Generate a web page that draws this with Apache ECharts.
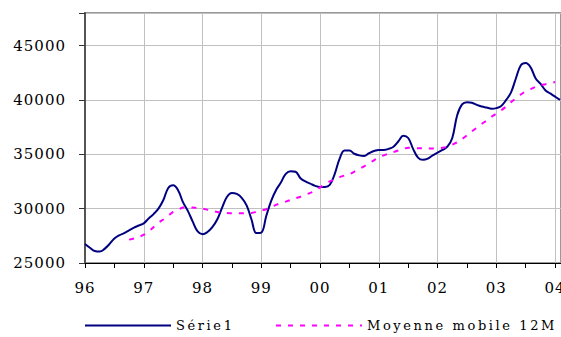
<!DOCTYPE html>
<html>
<head>
<meta charset="utf-8">
<script src="https://cdn.jsdelivr.net/npm/echarts@6/dist/echarts.min.js"></script>
<style>
  html, body { margin: 0; padding: 0; background: #fff; }
  #chart { width: 561px; height: 337px; }
  #chart text { letter-spacing: 1px; }
  #chart text.legend-text { font-family: 'DejaVu Serif', serif !important; letter-spacing: 2.6px; }
</style>
</head>
<body>
<div id="chart"></div>
<script>
// Year tick labels, one per January (every 12 months)
const yearLabels = ['96', '97', '98', '99', '00', '01', '02', '03', '04'];

// Monthly series, starting January 1996
const serie1 = [
  26750, 26400, 26100, 26050, 26300, 26750, 27250, 27550, 27750, 28000, 28250, 28450,
  28650, 29100, 29500, 30000, 30800, 31900, 32150, 31700, 30600, 29800, 28800, 27900,
  27650, 27850, 28300, 29000, 30100, 31100, 31450, 31350, 31000, 30300, 29000, 27750,
  27800, 29300, 30700, 31700, 32400, 33200, 33450, 33400, 32800, 32500, 32300, 32100,
  32000, 32000, 32200, 33200, 34600, 35350, 35350, 35050, 34900, 34850, 35100, 35300,
  35400, 35400, 35500, 35700, 36200, 36700, 36500, 35500, 34700, 34500, 34600, 34900,
  35150, 35400, 35700, 36500, 38600, 39600, 39800, 39750, 39550, 39400, 39300, 39200,
  39250, 39450, 40000, 40700, 42000, 43200, 43400, 43000, 42000, 41500, 40900, 40600,
  40300, 40000
];

// 12-month moving average, first value at month index maStart
const maStart = 9;
const movingAvg = [
  27150, 27250, 27400,
  27600, 27900, 28300, 28700, 29000, 29350, 29700, 29900, 30100, 30150, 30100, 30050,
  30000, 29900, 29800, 29700, 29650, 29600, 29580, 29580, 29580, 29580, 29600, 29700,
  29820, 29950, 30150, 30350, 30500, 30650, 30800, 30950, 31100, 31280, 31450, 31650,
  31950, 32250, 32500, 32700, 32900, 33050, 33170, 33400, 33650, 33900, 34150, 34450,
  34700, 34900, 35050, 35200, 35350, 35500, 35600, 35580, 35560, 35550, 35540, 35540,
  35550, 35600, 35700, 35900, 36100, 36400, 36750, 37100, 37450, 37800, 38100, 38450,
  38750, 39050, 39400, 39800, 40150, 40500, 40800, 41000, 41200, 41350, 41450, 41550,
  41650
];

const seriesNames = ['Série1', 'Moyenne mobile 12M'];
const serifFont = 'DejaVu Serif';

const chart = echarts.init(document.getElementById('chart'), null, { renderer: 'svg' });

const legendBase = {
  top: 319, padding: 0, itemHeight: 14, itemWidth: 86,
  itemStyle: { opacity: 0 },
  textStyle: { fontFamily: serifFont, fontSize: 13, color: '#000' }
};

chart.setOption({
  animation: false,
  backgroundColor: '#fff',
  grid: {
    left: 85, right: 0, top: 13, bottom: 74,
    outerBoundsMode: 'none',
    show: true, borderColor: '#999', borderWidth: 2, backgroundColor: 'transparent'
  },
  legend: [
    Object.assign({ data: [seriesNames[0]], left: 84 }, legendBase),
    Object.assign({ data: [seriesNames[1]], left: 275 }, legendBase)
  ],
  xAxis: {
    type: 'value', min: 0, max: 97.2, interval: 12,
    axisLine: { show: true, lineStyle: { color: '#000', width: 1 } },
    axisTick: { show: true, length: 5, lineStyle: { color: '#000' } },
    minorTick: { show: true, splitNumber: 2, length: 5, lineStyle: { color: '#000' } },
    splitLine: { show: true, lineStyle: { color: '#c0c0c0', width: 1 } },
    axisLabel: {
      margin: 17, fontFamily: serifFont, fontSize: 15, color: '#000',
      formatter: v => (v % 12 === 0 ? yearLabels[v / 12] : '')
    }
  },
  yAxis: {
    type: 'value', min: 25000, max: 48000, interval: 5000,
    axisLine: { show: true, lineStyle: { color: '#555', width: 2 } },
    axisTick: { show: true, length: 6, lineStyle: { color: '#333' } },
    splitLine: { show: true, lineStyle: { color: '#c0c0c0', width: 1 } },
    axisLabel: {
      margin: 19, fontFamily: serifFont, fontSize: 15, color: '#000',
      formatter: v => (v % 5000 === 0 ? String(v) : '')
    }
  },
  series: [
    {
      name: seriesNames[0], type: 'line', symbol: 'none', showSymbol: false, smooth: 0.4,
      data: serie1.map((v, i) => [i, v]),
      lineStyle: { color: '#000080', width: 2 },
      itemStyle: { color: '#000080' }
    },
    {
      name: seriesNames[1], type: 'line', symbol: 'none', showSymbol: false, smooth: 0.3,
      data: movingAvg.map((v, i) => [maStart + i, v]),
      lineStyle: { color: '#ff00ff', width: 2, type: [5, 7] },
      itemStyle: { color: '#ff00ff' }
    }
  ]
});

// Legend entries get a wider letter spacing than the axis labels
document.querySelectorAll('#chart text').forEach(t => {
  if (seriesNames.indexOf(t.textContent) >= 0) t.classList.add('legend-text');
});
</script>
</body>
</html>
